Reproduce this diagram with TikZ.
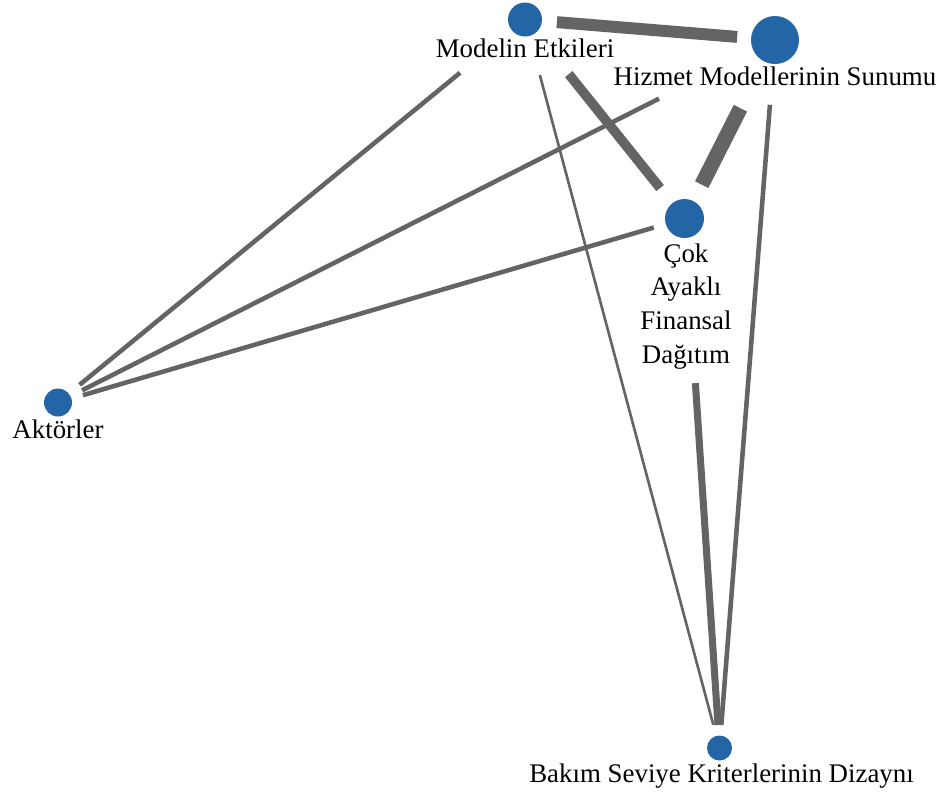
\documentclass[tikz,border=0pt]{standalone}
\usepackage{fontspec}
\setmainfont{Liberation Serif}
\definecolor{mavi}{HTML}{2465A6}
\definecolor{gri}{HTML}{646464}
\tikzset{
  nokta/.style={circle,fill=mavi,inner sep=0pt},
  etiket/.style={font=\fontsize{15.3}{19.3}\selectfont,inner sep=0pt,anchor=base},
  kenar/.style={gri,line width=#1},
}
\begin{document}
\begin{tikzpicture}[x=0.02cm,y=-0.02cm]
  \useasboundingbox (0,0) rectangle (946,796);
  % noktalar
  \node[nokta,minimum size=0.68cm] (me) at (525,19.5) {};
  \node[nokta,minimum size=0.96cm] (hm) at (775,40) {};
  \node[nokta,minimum size=0.78cm] (cd) at (684.5,218.5) {};
  \node[nokta,minimum size=0.56cm] (ak) at (58,402.5) {};
  \node[nokta,minimum size=0.50cm] (bk) at (719.5,748) {};
  % etiketler
  \node[etiket] (meL) at (525,57) {Modelin Etkileri};
  \node[etiket] (hmL) at (775,85) {Hizmet Modellerinin Sunumu};
  \node[etiket,align=center,anchor=north] (cdL) at (686,243) {Çok\\Ayaklı\\Finansal\\Dağıtım};
  \node[etiket] (akL) at (58,438) {Aktörler};
  \node[etiket] (bkL) at (721.5,782) {Bakım Seviye Kriterlerinin Dizaynı};
  % kenarlar
  \draw[kenar=6.8pt,shorten <=0.64cm,shorten >=0.76cm] (me.center)--(hm.center);
  \draw[kenar=5.5pt,shorten <=1.4cm,shorten >=0.78cm] (me.center)--(cd.center);
  \draw[kenar=8.5pt,shorten <=1.53cm,shorten >=0.76cm] (hm.center)--(cd.center);
  \draw[kenar=2.6pt,shorten <=1.68cm,shorten >=0.56cm] (me.center)--(ak.center);
  \draw[kenar=2.6pt,shorten <=2.6cm,shorten >=0.54cm] (hm.center)--(ak.center);
  \draw[kenar=2.6pt,shorten <=0.64cm,shorten >=0.52cm] (cd.center)--(ak.center);
  \draw[kenar=1.5pt,shorten <=1.15cm,shorten >=0.48cm] (me.center)--(bk.center);
  \draw[kenar=2.6pt,shorten <=1.3cm,shorten >=0.46cm] (hm.center)--(bk.center);
  \draw[kenar=4pt,shorten <=3.3cm,shorten >=0.46cm] (cd.center)--(bk.center);
\end{tikzpicture}
\end{document}
